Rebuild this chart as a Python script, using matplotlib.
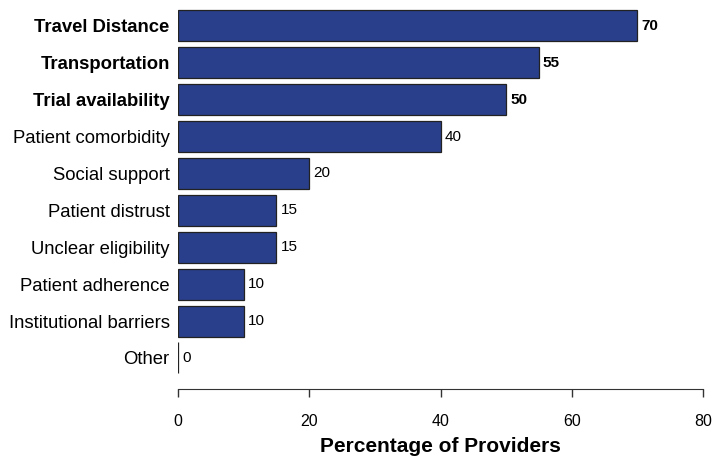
import numpy as np
import matplotlib.pyplot as plt

plt.rcParams['font.family'] = ['Liberation Sans', 'DejaVu Sans']

# barriers, bottom to top
barriers = ["Other", "Institutional barriers", "Patient adherence", "Unclear eligibility",
            "Patient distrust", "Social support", "Patient comorbidity",
            "Trial availability", "Transportation", "Travel Distance"]
percent = [0, 10, 10, 15, 15, 20, 40, 50, 55, 70]
bold_top = {"Trial availability", "Transportation", "Travel Distance"}

fig = plt.figure(figsize=(7.13, 4.57), dpi=100)
ax = fig.add_axes([178 / 713, (457 - 389) / 457, 525 / 713, 389 / 457])

pos = np.arange(len(barriers))
ax.barh(pos, percent, height=0.84, color="#293F8B", edgecolor="#222222", linewidth=0.9)

for y, v, name in zip(pos, percent, barriers):
    w = "bold" if name in bold_top else "normal"
    ax.text(v + 0.6, y, str(v), va="center", ha="left", fontsize=11, fontweight=w)

ax.set_xlim(0, 80)
ax.set_ylim(-0.84, 9.70)
ax.set_yticks(pos)
ax.set_yticklabels(barriers, fontsize=13.3)
for lab in ax.get_yticklabels():
    if lab.get_text() in bold_top:
        lab.set_fontweight("bold")
ax.tick_params(axis="y", length=0, pad=6)

ax.set_xticks([0, 20, 40, 60, 80])
ax.tick_params(axis="x", labelsize=11.5, length=6, width=1, color="#333333", pad=12)
ax.spines[["top", "right", "left"]].set_visible(False)
ax.spines["bottom"].set_bounds(0, 80)
ax.spines["bottom"].set_color("#333333")

fig.text(440 / 713, 1 - 446 / 457, "Percentage of Providers", ha="center", va="center",
         fontsize=15, fontweight="bold")

fig.savefig("out.png", dpi=100)
